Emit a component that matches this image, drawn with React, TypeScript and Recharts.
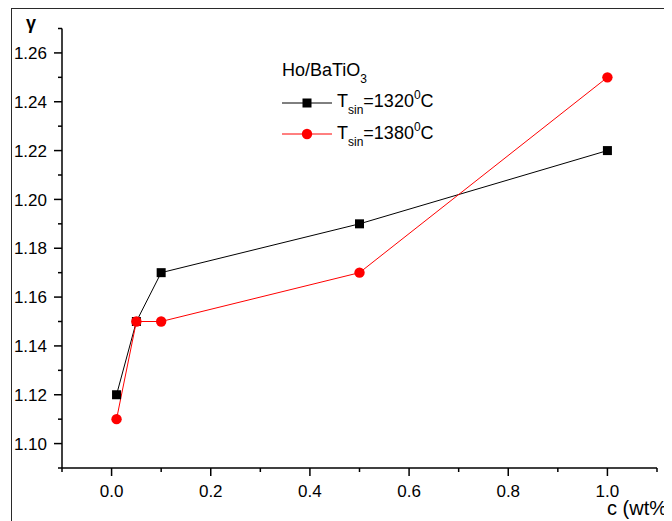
import { Legend, Line, LineChart, XAxis, YAxis } from "recharts"

const concentration = [0.01, 0.05, 0.1, 0.5, 1.0]
const gamma1320 = [1.12, 1.15, 1.17, 1.19, 1.22]
const gamma1380 = [1.11, 1.15, 1.15, 1.17, 1.25]

const xTicks = [-0.1, 0, 0.1, 0.2, 0.3, 0.4, 0.5, 0.6, 0.7, 0.8, 0.9, 1.0, 1.1]
const xLabels = ["0.0", "0.2", "0.4", "0.6", "0.8", "1.0"]
const yTicks = [1.09, 1.1, 1.11, 1.12, 1.13, 1.14, 1.15, 1.16, 1.17, 1.18, 1.19, 1.2, 1.21, 1.22, 1.23, 1.24, 1.25, 1.26, 1.27]
const yLabels = ["1.10", "1.12", "1.14", "1.16", "1.18", "1.20", "1.22", "1.24", "1.26"]

const data = concentration.map((c, i) => ({ c, t1320: gamma1320[i], t1380: gamma1380[i] }))

const FONT = "'Liberation Sans', Arial, sans-serif"

const XTick = ({ x, y, payload }: any) => {
  const label = Number(payload.value).toFixed(1)
  const major = xLabels.includes(label)
  return (
    <g>
      <line x1={x} x2={x} y1={y} y2={y + (major ? 8 : 4)} stroke="#000" strokeWidth={1.5} />
      {major && (
        <text x={x} y={y + 29} textAnchor="middle" fontSize={17} fontFamily={FONT} fill="#000">
          {label}
        </text>
      )}
    </g>
  )
}

const YTick = ({ x, y, payload }: any) => {
  const label = Number(payload.value).toFixed(2)
  const major = yLabels.includes(label)
  return (
    <g>
      <line x1={x} x2={x - (major ? 8 : 4)} y1={y} y2={y} stroke="#000" strokeWidth={1.5} />
      {major && (
        <text x={x - 15} y={y} dy="0.36em" textAnchor="end" fontSize={17} fontFamily={FONT} fill="#000">
          {label}
        </text>
      )}
    </g>
  )
}

const SquareDot = ({ cx, cy }: any) => <rect x={cx - 4.5} y={cy - 4.5} width={9} height={9} fill="#000" />
const CircleDot = ({ cx, cy }: any) => <circle cx={cx} cy={cy} r={5.2} fill="#ff0000" />

const sub = { fontSize: 12, position: "relative" as const, top: 7, verticalAlign: "baseline" }
const sup = { fontSize: 12, position: "relative" as const, top: -8, verticalAlign: "baseline" }

const LegendBox = () => (
  <div style={{ fontFamily: FONT, fontSize: 18, color: "#000", whiteSpace: "nowrap" }}>
    <div style={{ lineHeight: "30px" }}>
      Ho/BaTiO<span style={sub}>3</span>
    </div>
    {[
      { t: "1320", color: "#000", square: true },
      { t: "1380", color: "#ff0000", square: false },
    ].map((row) => (
      <div key={row.t} style={{ display: "flex", alignItems: "center", lineHeight: "29.5px" }}>
        <svg width={50} height={14} style={{ display: "block" }}>
          <line x1={0} x2={50} y1={7} y2={7} stroke={row.color} strokeWidth={1} />
          {row.square ? (
            <rect x={20.5} y={2.5} width={9} height={9} fill={row.color} />
          ) : (
            <circle cx={25} cy={7} r={5.2} fill={row.color} />
          )}
        </svg>
        <span style={{ marginLeft: 5 }}>
          T<span style={sub}>sin</span>={row.t}
          <span style={sup}>0</span>C
        </span>
      </div>
    ))}
  </div>
)

export default function App() {
  return (
    <div style={{ position: "relative", width: 664, height: 513, overflow: "hidden", background: "#fff" }}>
      <div
        style={{
          position: "absolute",
          left: 3,
          top: 0,
          width: 800,
          height: 800,
          borderTop: "1px solid #2a2a2a",
          borderLeft: "1px solid #2a2a2a",
        }}
      />
      <div style={{ position: "absolute", left: 0, top: 0 }}>
        <LineChart width={664} height={513} data={data} margin={{ top: 20.5, right: 15, left: 0, bottom: 0 }}>
          <XAxis
            dataKey="c"
            type="number"
            domain={[-0.1, 1.1]}
            ticks={xTicks}
            interval={0}
            height={53}
            tickSize={0}
            tickMargin={0}
            tickLine={false}
            axisLine={{ stroke: "#000", strokeWidth: 1.5 }}
            tick={<XTick />}
          />
          <YAxis
            type="number"
            domain={[1.09, 1.27]}
            ticks={yTicks}
            interval={0}
            width={54}
            tickSize={0}
            tickMargin={0}
            tickLine={false}
            axisLine={{ stroke: "#000", strokeWidth: 1.5 }}
            tick={<YTick />}
          />
          <Legend
            layout="vertical"
            align="center"
            verticalAlign="middle"
            content={<LegendBox />}
            wrapperStyle={{ top: 47, left: 274, width: "auto", height: "auto" }}
          />
          <Line
            dataKey="t1320"
            stroke="#000"
            strokeWidth={1}
            dot={<SquareDot />}
            activeDot={false}
            isAnimationActive={false}
          />
          <Line
            dataKey="t1380"
            stroke="#ff0000"
            strokeWidth={1}
            dot={<CircleDot />}
            activeDot={false}
            isAnimationActive={false}
          />
        </LineChart>
      </div>
      <svg width={664} height={513} style={{ position: "absolute", left: 0, top: 0, pointerEvents: "none" }}>
        <text x={23} y={21} textAnchor="middle" fontSize={18} fontWeight="bold" fontFamily={FONT} fill="#000">
          γ
        </text>
        <text x={599} y={507} fontSize={20} fontFamily={FONT} fill="#000">
          c (wt%)
        </text>
      </svg>
    </div>
  )
}
